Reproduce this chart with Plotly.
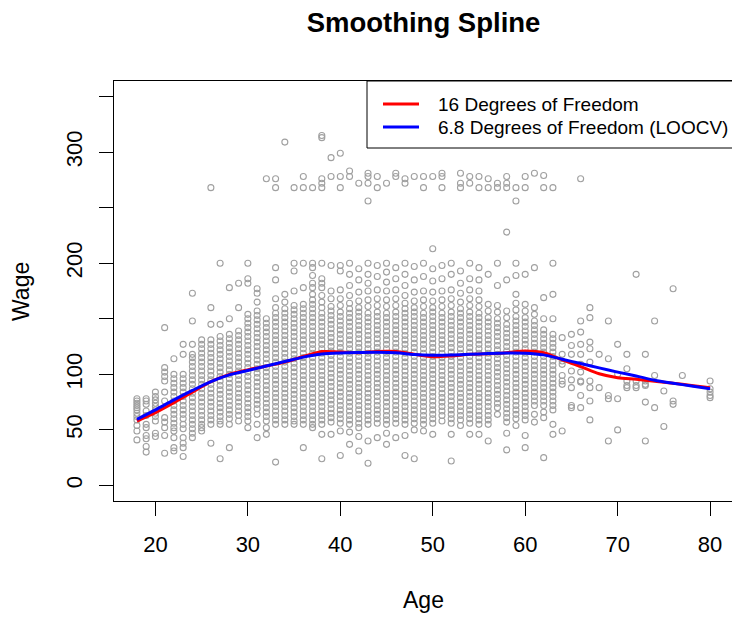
import plotly.graph_objects as go

# ---------------- data ----------------
cols_18_29 = [
    (18, [78, 76, 74, 72, 70, 68, 65, 62, 59, 54, 49, 41]),
    (19, [78, 76, 73, 67, 63, 55, 52, 45, 42, 35, 30]),
    (20, [84, 80, 77, 74, 71, 68, 65, 62, 58, 47, 44]),
    (21, [142, 106, 102, 98, 94, 84, 76, 61, 57, 52, 45, 29]),
    (22, [114, 100, 96, 92, 88, 84, 80, 76, 72, 68, 64, 60, 56, 52, 49, 43, 34, 31]),
    (23, [127, 118, 100, 96, 92, 88, 84, 80, 76, 72, 68, 64, 60, 55, 51, 43, 38, 34, 26]),
    (24, [173, 148, 127, 118, 115, 111, 107, 103, 99, 95, 91, 87, 83, 79, 75, 71, 67, 63, 59, 55, 51, 47, 43]),
    (25, [131, 127, 123, 119, 115, 111, 107, 103, 99, 95, 91, 87, 83, 79, 75, 71, 67, 63, 59, 55, 52, 49]),
    (26, [268, 160, 145, 131, 127, 123, 119, 115, 111, 107, 103, 99, 95, 91, 87, 83, 79, 75, 71, 67, 63, 59, 55, 38]),
    (27, [200, 145, 134, 130, 126, 122, 118, 114, 110, 106, 102, 98, 94, 90, 86, 82, 78, 74, 70, 66, 62, 58, 55, 24]),
    (28, [178, 150, 136, 132, 128, 124, 120, 116, 112, 108, 104, 100, 96, 92, 88, 84, 80, 76, 72, 68, 64, 60, 55, 34]),
    (29, [182, 160, 139, 135, 131, 127, 123, 119, 115, 111, 107, 103, 99, 95, 91, 87, 83, 79, 75, 71, 67, 63, 58]),
]
cols_30_39 = [
    (30, [200, 186, 182, 154, 150, 146, 142, 138, 134, 130, 126, 122, 118, 114, 110, 106, 102, 98, 94, 90, 86, 82, 78, 74, 70, 66, 62, 58, 52]),
    (31, [177, 173, 165, 157, 153, 149, 145, 141, 137, 133, 129, 125, 121, 117, 113, 109, 105, 101, 97, 93, 89, 85, 81, 77, 73, 69, 64, 55, 43]),
    (32, [276, 150, 146, 142, 138, 134, 130, 126, 122, 118, 114, 110, 106, 102, 98, 94, 90, 86, 82, 78, 74, 70, 66, 62, 58, 52, 46]),
    (33, [276, 268, 196, 185, 168, 160, 155, 151, 147, 143, 139, 135, 131, 127, 123, 119, 115, 111, 107, 103, 99, 95, 91, 87, 83, 79, 75, 71, 67, 63, 59, 55, 21]),
    (34, [309, 172, 165, 159, 155, 151, 147, 143, 139, 135, 131, 127, 123, 119, 115, 111, 107, 103, 99, 95, 91, 87, 83, 79, 75, 71, 67, 63, 59, 55]),
    (35, [268, 200, 193, 175, 162, 158, 154, 150, 146, 142, 138, 134, 130, 126, 122, 118, 114, 110, 106, 102, 98, 94, 90, 86, 82, 78, 74, 70, 66, 62, 58, 55]),
    (36, [278, 268, 200, 178, 163, 159, 155, 151, 147, 143, 139, 135, 131, 127, 123, 119, 115, 111, 107, 103, 99, 95, 91, 87, 83, 79, 75, 71, 67, 63, 59, 55, 34]),
    (37, [268, 200, 196, 189, 182, 178, 172, 167, 163, 159, 155, 151, 147, 143, 139, 135, 131, 127, 123, 119, 115, 111, 107, 103, 99, 95, 91, 87, 83, 79, 75, 71, 67, 63, 59, 55, 52]),
    (38, [315, 313, 276, 272, 268, 200, 186, 182, 178, 171, 165, 160, 155, 151, 147, 143, 139, 135, 131, 127, 123, 119, 115, 111, 107, 103, 99, 95, 91, 87, 83, 79, 75, 71, 67, 63, 59, 55, 46, 24]),
    (39, [295, 278, 198, 175, 168, 161, 157, 153, 149, 145, 141, 137, 133, 129, 125, 121, 117, 113, 109, 105, 101, 97, 93, 89, 85, 81, 77, 73, 69, 65, 61, 57, 46]),
]
cols_40_49 = [
    (40, [299, 278, 268, 198, 193, 176, 168, 162, 156, 152, 148, 144, 140, 136, 132, 128, 124, 120, 116, 112, 108, 104, 100, 96, 92, 88, 84, 80, 76, 72, 68, 64, 60, 56, 49, 27]),
    (41, [283, 278, 200, 190, 180, 171, 164, 159, 155, 151, 147, 143, 139, 135, 131, 127, 123, 119, 115, 111, 107, 103, 99, 95, 91, 87, 83, 79, 75, 71, 67, 63, 59, 55, 48, 37]),
    (42, [272, 195, 185, 174, 166, 160, 156, 152, 148, 144, 140, 136, 132, 128, 124, 120, 116, 112, 108, 104, 100, 96, 92, 88, 84, 80, 76, 72, 68, 64, 60, 56, 52, 44, 31]),
    (43, [281, 278, 272, 256, 200, 190, 182, 175, 167, 161, 155, 151, 147, 143, 139, 135, 131, 127, 123, 119, 115, 111, 107, 103, 99, 95, 91, 87, 83, 79, 75, 71, 67, 63, 59, 55, 40, 20]),
    (44, [278, 268, 198, 188, 176, 168, 162, 156, 152, 148, 144, 140, 136, 132, 128, 124, 120, 116, 112, 108, 104, 100, 96, 92, 88, 84, 80, 76, 72, 68, 64, 60, 56, 43]),
    (45, [272, 200, 192, 183, 175, 167, 161, 155, 151, 147, 143, 139, 135, 131, 127, 123, 119, 115, 111, 107, 103, 99, 95, 91, 87, 83, 79, 75, 71, 67, 63, 59, 55, 47, 37]),
    (46, [318, 281, 278, 196, 186, 176, 168, 162, 156, 152, 148, 144, 140, 136, 132, 128, 124, 120, 116, 112, 108, 104, 100, 96, 92, 88, 84, 80, 76, 72, 68, 64, 60, 56, 43]),
    (47, [276, 272, 200, 190, 180, 171, 164, 159, 155, 151, 147, 143, 139, 135, 131, 127, 123, 119, 115, 111, 107, 103, 99, 95, 91, 87, 83, 79, 75, 71, 67, 63, 59, 55, 45, 27]),
    (48, [278, 197, 185, 174, 166, 160, 156, 152, 148, 144, 140, 136, 132, 128, 124, 120, 116, 112, 108, 104, 100, 96, 92, 88, 84, 80, 76, 72, 68, 64, 60, 56, 50, 24]),
    (49, [278, 268, 200, 188, 175, 167, 161, 155, 151, 147, 143, 139, 135, 131, 127, 123, 119, 115, 111, 107, 103, 99, 95, 91, 87, 83, 79, 75, 71, 67, 63, 59, 55, 49]),
]
cols_50_59 = [
    (50, [278, 213, 195, 184, 174, 166, 160, 156, 152, 148, 144, 140, 136, 132, 128, 124, 120, 116, 112, 108, 104, 100, 96, 92, 88, 84, 80, 76, 72, 68, 64, 60, 56, 46]),
    (51, [281, 278, 268, 198, 186, 175, 167, 161, 155, 151, 147, 143, 139, 135, 131, 127, 123, 119, 115, 111, 107, 103, 99, 95, 91, 87, 83, 79, 75, 71, 67, 63, 58]),
    (52, [200, 190, 176, 168, 162, 156, 152, 148, 144, 140, 136, 132, 128, 124, 120, 116, 112, 108, 104, 100, 96, 92, 88, 84, 80, 76, 72, 68, 64, 60, 56, 46, 22]),
    (53, [281, 272, 268, 193, 182, 173, 165, 159, 155, 151, 147, 143, 139, 135, 131, 127, 123, 119, 115, 111, 107, 103, 99, 95, 91, 87, 83, 79, 75, 71, 67, 63, 59, 54]),
    (54, [278, 272, 200, 186, 176, 168, 162, 156, 152, 148, 144, 140, 136, 132, 128, 124, 120, 116, 112, 108, 104, 100, 96, 92, 88, 84, 80, 76, 72, 68, 64, 60, 56, 46]),
    (55, [278, 268, 196, 185, 175, 167, 161, 155, 151, 147, 143, 139, 135, 131, 127, 123, 119, 115, 111, 107, 103, 99, 95, 91, 87, 83, 79, 75, 71, 67, 63, 59, 55, 46]),
    (56, [276, 268, 190, 163, 157, 151, 147, 143, 139, 135, 131, 127, 123, 119, 115, 111, 107, 103, 99, 95, 91, 87, 83, 79, 75, 71, 67, 63, 59, 55, 40]),
    (57, [272, 268, 200, 180, 162, 156, 150, 146, 142, 138, 134, 130, 126, 122, 118, 114, 110, 106, 102, 98, 94, 90, 86, 82, 78, 74, 70, 64]),
    (58, [310, 278, 272, 268, 228, 185, 157, 151, 145, 141, 137, 133, 129, 125, 121, 117, 113, 109, 105, 101, 97, 93, 89, 85, 81, 77, 73, 69, 65, 61, 57, 47, 32]),
    (59, [268, 256, 200, 189, 172, 164, 158, 152, 148, 144, 140, 136, 132, 128, 124, 120, 116, 112, 108, 104, 100, 96, 92, 88, 84, 80, 76, 72, 68, 64, 60, 54]),
]
cols_60_80 = [
    (60, [278, 268, 190, 163, 157, 151, 147, 143, 139, 135, 131, 127, 123, 119, 115, 111, 107, 103, 99, 95, 91, 87, 83, 79, 75, 71, 67, 63, 59, 45, 34]),
    (61, [281, 196, 160, 154, 148, 144, 140, 136, 132, 128, 124, 120, 116, 112, 108, 104, 100, 96, 92, 88, 84, 80, 76, 72, 64, 57]),
    (62, [279, 268, 169, 150, 140, 136, 132, 128, 124, 120, 116, 112, 108, 104, 100, 96, 92, 88, 84, 80, 76, 72, 66, 61, 25]),
    (63, [318, 268, 200, 172, 150, 136, 132, 128, 124, 120, 116, 112, 108, 104, 100, 96, 92, 88, 84, 80, 76, 72, 68, 55, 46]),
    (64, [133, 118, 112, 109, 99, 94, 91, 49]),
    (65, [136, 126, 118, 103, 95, 88, 72, 70]),
    (66, [276, 148, 138, 127, 118, 109, 102, 94, 93, 81, 70]),
    (67, [160, 151, 129, 123, 111, 94, 88, 76, 59]),
    (68, [118, 88]),
    (69, [148, 114, 81, 78, 40]),
    (70, [127, 100, 78, 50]),
    (71, [118, 105, 94, 90, 88]),
    (72, [190, 94, 90, 88]),
    (73, [118, 94, 91, 90, 75, 40]),
    (74, [148, 99, 70]),
    (75, [85, 53]),
    (76, [177, 76, 73]),
    (77, [99]),
    (80, [94, 87, 84, 81, 79]),
]

curve_ages = [18, 20, 22, 24, 26, 28, 30, 32, 34, 36, 38, 40, 42, 44, 46, 48,
              50, 52, 54, 56, 58, 60, 62, 64, 66, 68, 70, 72, 74, 76, 78, 80]
fit_df16 = [58, 65.5, 74.5, 84, 93.5, 100, 104, 107.5, 111, 116, 120.5, 120, 119.5, 120.5, 120.5, 118,
            115.8, 116.5, 118, 118.5, 119.5, 121, 119.5, 113, 107, 100.5, 97, 95.5, 93.8, 92, 90, 88]
fit_loocv = [59.5, 68, 77, 85.5, 93.5, 99.5, 103.5, 107.5, 111.5, 115.5, 118.3, 119.3, 119.7, 119.9, 119.4, 117.8,
             117.1, 117.3, 118, 118.7, 119.2, 119, 117.5, 113.6, 109.7, 105.8, 102, 98.5, 94.7, 92, 89.5, 87]

legend_names = ["16 Degrees of Freedom", "6.8 Degrees of Freedom (LOOCV)"]
y_tickvals = [0, 50, 100, 150, 200, 250, 300, 350]
y_ticktext = ["0", "50", "100", "", "200", "", "300", ""]
x_tickvals = [20, 30, 40, 50, 60, 70, 80]

# ---------------- build ----------------
pt_age, pt_wage = [], []
for group in (cols_18_29, cols_30_39, cols_40_49, cols_50_59, cols_60_80):
    for a, ws in group:
        for w in ws:
            pt_age.append(a)
            pt_wage.append(w)

FONT = "Liberation Sans, Arial, Helvetica, sans-serif"
OFF = 8  # page body margin: figure origin sits at (8, 8) in the screenshot
FW, FH = 740, 620

fig = go.Figure()
fig.add_trace(go.Scatter(
    x=pt_age, y=pt_wage, mode="markers", showlegend=False,
    marker=dict(symbol="circle-open", size=6, color="#A0A0A0", line=dict(width=1.1, color="#A0A0A0")),
))
fig.add_trace(go.Scatter(x=curve_ages, y=fit_df16, mode="lines", name=legend_names[0], showlegend=False,
                         line=dict(color="#FF0000", width=3, shape="spline", smoothing=0.8)))
fig.add_trace(go.Scatter(x=curve_ages, y=fit_loocv, mode="lines", name=legend_names[1], showlegend=False,
                         line=dict(color="#0000FF", width=3, shape="spline", smoothing=0.8)))

# plot area in screenshot pixels
L, R, T, B = 114, 733, 81, 501
W, H = R - L, B - T
def px(xp): return (xp - L) / W
def py(yp): return (B - yp) / H

shapes = [dict(type="rect", xref="paper", yref="paper", x0=px(367), x1=1.0, y0=py(148), y1=1.0,
               line=dict(color="black", width=1), fillcolor="white", layer="above")]
annotations = []
for name, col, yy in zip(legend_names, ["#FF0000", "#0000FF"], [104, 127]):
    shapes.append(dict(type="line", xref="paper", yref="paper", x0=px(383), x1=px(419), y0=py(yy), y1=py(yy),
                       line=dict(color=col, width=3), layer="above"))
    annotations.append(dict(text=name, xref="paper", yref="paper", x=px(436), y=py(yy), xanchor="left",
                            yanchor="middle", showarrow=False, font=dict(family=FONT, size=19, color="black")))
# y-axis title (R places it at a fixed line from the frame)
annotations.append(dict(text="Wage", xref="paper", yref="paper", x=px(21), y=py(292), xanchor="center",
                        yanchor="middle", textangle=-90, showarrow=False,
                        font=dict(family=FONT, size=23, color="black")))

fig.update_layout(
    width=FW, height=FH, autosize=False,
    margin=dict(l=L - OFF, r=FW - (R - OFF), t=T - OFF, b=FH - (B - OFF), autoexpand=False),
    paper_bgcolor="white", plot_bgcolor="white",
    font=dict(family=FONT, color="black"),
    title=dict(text="Smoothing Spline", x=((L + R) / 2 - OFF) / FW, xanchor="center",
               y=1 - (22 - OFF) / FH, yanchor="middle", font=dict(family=FONT, size=27.5, weight="bold")),
    shapes=shapes, annotations=annotations, showlegend=False,
)
fig.update_xaxes(range=[15.52, 82.48], tickvals=x_tickvals, ticks="outside", ticklen=14, tickwidth=1,
                 tickcolor="black", showline=True, mirror=True, linecolor="black", linewidth=1,
                 showgrid=False, zeroline=False, tickfont=dict(size=22), ticklabelstandoff=10,
                 automargin=False, title=dict(text="Age", font=dict(size=23), standoff=35))
fig.update_yaxes(range=[-14, 364], tickvals=y_tickvals, ticktext=y_ticktext, ticks="outside", ticklen=14,
                 tickwidth=1, tickcolor="black", showline=True, mirror=True, linecolor="black", linewidth=1,
                 showgrid=False, zeroline=False, tickangle=-90, tickfont=dict(size=22), ticklabelstandoff=8,
                 automargin=False)

fig.write_html("out.html")
